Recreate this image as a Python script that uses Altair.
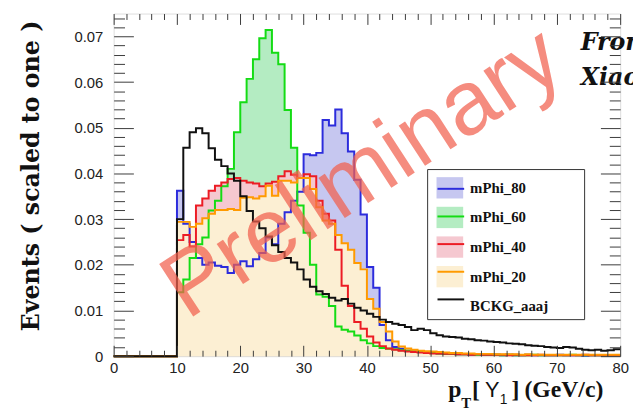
import altair as alt
import pandas as pd

# ---------------- data (bin contents, 1 GeV bins starting at 10 GeV) ----------------
empty_bins = [0.0] * 10  # bins 0..9 are empty

m80 = [0.0362, 0.0290, 0.0250, 0.0215, 0.0200, 0.0205, 0.0198, 0.0195, 0.0182, 0.0200,
       0.0208, 0.0197, 0.0212, 0.0226, 0.0260, 0.0245, 0.0290, 0.0315, 0.0340, 0.0360,
       0.0442, 0.0440, 0.0445, 0.0517, 0.0505, 0.0540, 0.0488, 0.0448, 0.0386, 0.0310,
       0.0195, 0.0150, 0.0068, 0.0035, 0.0020, 0.0016, 0.0012, 0.0010, 0.0009, 0.0008,
       0.0007, 0.0006, 0.0005, 0.0005, 0.0004, 0.0004, 0.0003, 0.0004, 0.0003, 0.0003,
       0.0003, 0.0002, 0.0003, 0.0002, 0.0002, 0.0003, 0.0002, 0.0002, 0.0002, 0.0002,
       0.0003, 0.0002, 0.0002, 0.0002, 0.0001, 0.0002, 0.0002, 0.0002, 0.0002, 0.0002]

m60 = [0.0140, 0.0168, 0.0215, 0.0245, 0.0260, 0.0319, 0.0340, 0.0372, 0.0410, 0.0490,
       0.0556, 0.0607, 0.0650, 0.0696, 0.0714, 0.0664, 0.0639, 0.0539, 0.0456, 0.0330,
       0.0270, 0.0200, 0.0135, 0.0130, 0.0110, 0.0065, 0.0058, 0.0054, 0.0045, 0.0035,
       0.0028, 0.0022, 0.0018, 0.0016, 0.0015, 0.0013, 0.0012, 0.0010, 0.0009, 0.0008,
       0.0007, 0.0006, 0.0005, 0.0005, 0.0004, 0.0004, 0.0004, 0.0003, 0.0003, 0.0003,
       0.0003, 0.0002, 0.0003, 0.0002, 0.0002, 0.0002, 0.0003, 0.0002, 0.0002, 0.0002,
       0.0002, 0.0002, 0.0003, 0.0002, 0.0002, 0.0002, 0.0002, 0.0002, 0.0002, 0.0002]

m40 = [0.0254, 0.0265, 0.0240, 0.0330, 0.0345, 0.0362, 0.0373, 0.0380, 0.0388, 0.0390,
       0.0384, 0.0380, 0.0378, 0.0372, 0.0378, 0.0382, 0.0394, 0.0405, 0.0397, 0.0390,
       0.0398, 0.0394, 0.0340, 0.0312, 0.0297, 0.0233, 0.0154, 0.0110, 0.0075, 0.0060,
       0.0043, 0.0030, 0.0022, 0.0017, 0.0014, 0.0012, 0.0010, 0.0009, 0.0008, 0.0007,
       0.0006, 0.0006, 0.0005, 0.0005, 0.0004, 0.0004, 0.0003, 0.0004, 0.0003, 0.0003,
       0.0003, 0.0003, 0.0002, 0.0003, 0.0002, 0.0002, 0.0002, 0.0003, 0.0002, 0.0002,
       0.0002, 0.0002, 0.0002, 0.0002, 0.0003, 0.0002, 0.0002, 0.0002, 0.0002, 0.0002]

m20 = [0.0294, 0.0294, 0.0283, 0.0290, 0.0302, 0.0312, 0.0320, 0.0320, 0.0322, 0.0320,
       0.0347, 0.0348, 0.0345, 0.0350, 0.0373, 0.0351, 0.0384, 0.0384, 0.0380, 0.0390,
       0.0390, 0.0366, 0.0326, 0.0297, 0.0290, 0.0265, 0.0247, 0.0233, 0.0204, 0.0190,
       0.0125, 0.0104, 0.0075, 0.0054, 0.0032, 0.0021, 0.0017, 0.0014, 0.0012, 0.0011,
       0.0010, 0.0009, 0.0008, 0.0007, 0.0007, 0.0006, 0.0006, 0.0005, 0.0005, 0.0005,
       0.0004, 0.0004, 0.0004, 0.0004, 0.0003, 0.0004, 0.0003, 0.0003, 0.0003, 0.0003,
       0.0003, 0.0003, 0.0003, 0.0003, 0.0003, 0.0003, 0.0003, 0.0003, 0.0003, 0.0003]

bckg = [0.0300, 0.0456, 0.0490, 0.0499, 0.0488, 0.0455, 0.0430, 0.0416, 0.0400, 0.0384,
        0.0350, 0.0318, 0.0295, 0.0280, 0.0262, 0.0243, 0.0228, 0.0215, 0.0205, 0.0190,
        0.0168, 0.0152, 0.0142, 0.0136, 0.0128, 0.0122, 0.0125, 0.0115, 0.0106, 0.0100,
        0.0093, 0.0086, 0.0080, 0.0075, 0.0071, 0.0068, 0.0064, 0.0057, 0.0060, 0.0057,
        0.0050, 0.0046, 0.0043, 0.0042, 0.0041, 0.0038, 0.0037, 0.0035, 0.0034, 0.0032,
        0.0031, 0.0030, 0.0028, 0.0027, 0.0026, 0.0024, 0.0023, 0.0022, 0.0020, 0.0019,
        0.0018, 0.0020, 0.0019, 0.0016, 0.0014, 0.0013, 0.0014, 0.0012, 0.0013, 0.0015]

series_names = ["mPhi_80", "mPhi_60", "mPhi_40", "mPhi_20", "BCKG_aaaj"]
series_values = [m80, m60, m40, m20, bckg]
line_colors = ["#2c2cdc", "#14dc14", "#ec1c24", "#ff9a00", "#111111"]
fill_colors = ["#c6c7f0", "#b4ecc2", "#f5c8d0", "#fcefd3", "#ffffff"]

x_label_values = [0, 10, 20, 30, 40, 50, 60, 70, 80]
x_minor_values = [2, 4, 6, 8, 12, 14, 16, 18, 22, 24, 26, 28, 32, 34, 36, 38,
                  42, 44, 46, 48, 52, 54, 56, 58, 62, 64, 66, 68, 72, 74, 76, 78]
y_label_values = [0, 0.01, 0.02, 0.03, 0.04, 0.05, 0.06, 0.07]
y_minor_values = [0.002, 0.004, 0.006, 0.008, 0.012, 0.014, 0.016, 0.018,
                  0.022, 0.024, 0.026, 0.028, 0.032, 0.034, 0.036, 0.038,
                  0.042, 0.044, 0.046, 0.048, 0.052, 0.054, 0.056, 0.058,
                  0.062, 0.064, 0.066, 0.068, 0.072, 0.074]

# ---------------- build long table ----------------
rows = []
for name, vals in zip(series_names, series_values):
    full = empty_bins + vals
    for i, v in enumerate(full):
        rows.append({"x": i, "y": v, "series": name, "outline": name + " outline"})
    rows.append({"x": len(full), "y": full[-1], "series": name, "outline": name + " outline"})
df = pd.DataFrame(rows)
outline_names = [n + " outline" for n in series_names]

W, H = 513, 347
xscale = alt.Scale(domain=[0, 80], nice=False, zero=False)
yscale = alt.Scale(domain=[0, 0.075], nice=False)

TICK = "#3a3a3a"
LABEL_FONT = "Liberation Sans"
SERIF = "Liberation Serif"


def tick_axis(orient, values, size):
    return alt.Axis(orient=orient, values=values, tickSize=size, offset=-size,
                    labels=False, domain=False, grid=False, title=None,
                    tickColor=TICK, tickWidth=1, zindex=3)


ax_x_lab = alt.Axis(orient="bottom", values=x_label_values, ticks=False, tickSize=0,
                    domain=False, grid=False, title=None, labelFont=LABEL_FONT,
                    labelFontSize=15, labelColor="#222", labelPadding=5,
                    labelFlush=False, labelOverlap=False, zindex=3)
ax_y_lab = alt.Axis(orient="left", values=y_label_values, ticks=False, tickSize=0,
                    domain=False, grid=False, format=".2~f",
                    labelFont=LABEL_FONT, labelFontSize=15, labelColor="#222",
                    labelPadding=11, labelOverlap=False, labelFlush=False,
                    title="Events  ( scaled to one )", titleFont="DejaVu Serif",
                    titleFontWeight="bold", titleFontSize=24, titleColor="#111",
                    titleX=-83, titleY=164, titleBaseline="middle", titleAngle=270,
                    titleAlign="center", zindex=3)

x_axes = [ax_x_lab,
          tick_axis("bottom", x_label_values, 11),
          tick_axis("bottom", x_minor_values, 6),
          tick_axis("top", x_label_values, 11),
          tick_axis("top", x_minor_values, 6)]
y_axes = [ax_y_lab,
          tick_axis("left", y_label_values, 20),
          tick_axis("left", y_minor_values, 11),
          tick_axis("right", y_label_values, 20),
          tick_axis("right", y_minor_values, 11)]

common_legend = dict(orient="none", legendX=322, legendY=158, title=None,
                     symbolSize=729, labelFont=SERIF, labelFontWeight="bold",
                     labelFontSize=15, labelOffset=7, rowPadding=5, padding=5)
# filled boxes + names
fill_legend = alt.Legend(symbolType="M-1,-0.8H1V0.8H-1Z", symbolStrokeWidth=0,
                         labelColor="#111", **common_legend)
# line samples drawn on top of the boxes (no labels of their own)
stroke_legend = alt.Legend(symbolType="stroke", symbolStrokeWidth=2,
                           labelExpr="''", **common_legend)

fill_enc = alt.Fill("series:N", scale=alt.Scale(domain=series_names, range=fill_colors),
                    legend=fill_legend)
stroke_enc = alt.Stroke("outline:N",
                        scale=alt.Scale(domain=outline_names, range=line_colors),
                        legend=stroke_legend)

base = alt.Chart(df)
layers = []
axis_slot = 0
# filled areas (signal samples only), drawn in order 80, 60, 40, 20
for name in series_names[:4]:
    xa = x_axes[axis_slot] if axis_slot < len(x_axes) else None
    ya = y_axes[axis_slot] if axis_slot < len(y_axes) else None
    axis_slot += 1
    layers.append(
        base.transform_filter(alt.datum.series == name)
        .mark_area(interpolate="step-after", fillOpacity=1, line=False)
        .encode(x=alt.X("x:Q", scale=xscale, axis=xa),
                y=alt.Y("y:Q", scale=yscale, axis=ya, stack=None),
                y2=alt.Y2(datum=0),
                fill=fill_enc)
    )
# outlines
for name in series_names:
    xa = x_axes[axis_slot] if axis_slot < len(x_axes) else None
    ya = y_axes[axis_slot] if axis_slot < len(y_axes) else None
    axis_slot += 1
    layers.append(
        base.transform_filter(alt.datum.series == name)
        .mark_line(interpolate="step-after", strokeWidth=2)
        .encode(x=alt.X("x:Q", scale=xscale, axis=xa),
                y=alt.Y("y:Q", scale=yscale, axis=ya),
                stroke=stroke_enc,
                order=alt.Order("x:Q"))
    )

one = alt.Data(values=[{}])

# watermark
layers.append(
    alt.Chart(one).mark_text(text="Preliminary", font=LABEL_FONT, fontSize=92,
                             angle=327, align="center", baseline="middle",
                             color="#f2604e", opacity=0.72)
    .encode(x=alt.value(252), y=alt.value(162))
)

# legend frame (white box behind the legend entries)
layers.append(
    alt.Chart(one).mark_rect(fill="white", stroke="#333", strokeWidth=1)
    .encode(x=alt.value(318), x2=alt.value(477), y=alt.value(158), y2=alt.value(310))
)

# author note (cut by the page edge as in the original)
for txt, yy in [("From", 37), ("Xiao", 72)]:
    layers.append(
        alt.Chart(one).mark_text(text=txt, font="DejaVu Serif", fontSize=24,
                                 fontWeight="bold", fontStyle="italic", align="left",
                                 baseline="alphabetic", color="#111")
        .encode(x=alt.value(473), y=alt.value(yy))
    )

# x-axis title pieces: p_T [ Y_1 ] (GeV/c)
title_pieces = [
    ("p", 339, 388, SERIF, 24, "bold"),
    ("T", 352, 399, SERIF, 15, "bold"),
    ("[", 363, 388, SERIF, 24, "bold"),
    ("\u03a5", 376, 388, LABEL_FONT, 22, "normal"),
    ("1", 391, 395, LABEL_FONT, 14, "normal"),
    ("]", 403, 388, SERIF, 24, "bold"),
    ("(GeV/c)", 416, 388, SERIF, 24, "bold"),
]
for txt, xx, yy, fnt, fs, fw in title_pieces:
    layers.append(
        alt.Chart(one).mark_text(text=txt, font=fnt, fontSize=fs, fontWeight=fw,
                                 align="left", baseline="alphabetic", color="#111")
        .encode(x=alt.value(xx), y=alt.value(yy))
    )

chart = (
    alt.layer(*layers)
    .resolve_axis(x="independent", y="independent")
    .properties(width=W, height=H,
                padding={"left": 107, "top": 3, "right": 13, "bottom": 60},
                autosize=alt.AutoSizeParams(type="none"))
    .configure_view(stroke="#555555", strokeWidth=1)
    .configure(background="white")
)

chart.save("out.html", embed_options={"renderer": "svg", "actions": False})
